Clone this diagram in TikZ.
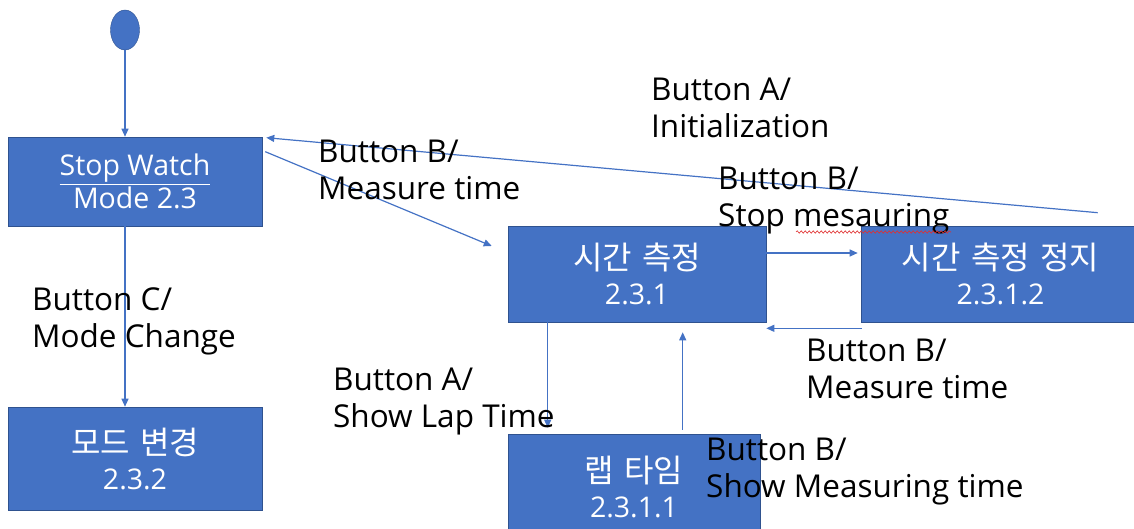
\documentclass[tikz,border=0pt]{standalone}
\usepackage{fontspec}
\setmainfont{Open Sans}
\newfontfamily\kr{Noto Sans CJK KR}
\usetikzlibrary{arrows.meta,shapes.geometric,decorations.pathmorphing}
\definecolor{boxblue}{HTML}{4472C4}
\definecolor{boxedge}{HTML}{2F528F}
\definecolor{spellred}{HTML}{E03030}
\newcommand{\hangul}[1]{{\kr\fontsize{32}{36}\selectfont\spaceskip=0.32em #1}}
\begin{document}
\begin{tikzpicture}[x=1pt,y=-1pt,
  state/.style={draw=boxedge, line width=0.6pt, fill=boxblue, text=white,
    font=\fontsize{28.5}{35}\selectfont, align=center, inner sep=0pt},
  arr/.style={draw=boxblue, line width=1.2pt, -{Triangle[length=8pt,width=7pt]}},
  lbl/.style={font=\fontsize{31.5}{37}\selectfont, align=left, inner sep=0pt, anchor=base west}]
\useasboundingbox (0,0) rectangle (1134,529);
\node[draw=boxedge, fill=boxblue, ellipse, minimum width=29pt, minimum height=40pt, inner sep=0pt] (init) at (125,30) {};
\node[state, minimum width=254pt, minimum height=89pt] (sw) at (135,181.5) {\underline{Stop Watch}\\[-2pt]Mode 2.3};
\node[state, minimum width=254pt, minimum height=103pt] (mc) at (135,458.5) {\hangul{모드 변경}\\2.3.2};
\node[state, minimum width=258pt, minimum height=96pt] (meas) at (637,274) {\hangul{시간 측정}\\2.3.1};
\node[state, minimum width=279pt, minimum height=96pt] (stop) at (1000.5,274) {\hangul{시간 측정 정지}\\2.3.1.2};
\node[state, minimum width=252pt, minimum height=106pt] (lap) at (634,487) {\hangul{랩 타임}\\2.3.1.1};

\draw[arr] (init.south) -- (init.south |- sw.north);
\draw[arr] ([xshift=-10pt]sw.south) -- ([xshift=-10pt]mc.north);
\draw[arr] ([shift={(3,15)}]sw.north east) -- ([shift={(-16,-28)}]meas.west);
\draw[arr] ([shift={(237,-13)}]stop.north west) -- ([shift={(4,1)}]sw.north east);
\draw[arr] ([shift={(0,-21)}]meas.east) -- ([shift={(-3,-21)}]stop.west);
\draw[arr] ([shift={(1,6)}]stop.south west) -- ([shift={(0,6)}]meas.south east);
\draw[arr] ([xshift=40pt]meas.south west) -- ([shift={(40,-6)}]lap.north west);
\draw[arr] ([shift={(175,-4)}]lap.north west) -- ([shift={(175,10)}]meas.south west);

\node[lbl] (l1) at (651,138) {Button A/\\Initialization};
\node[lbl] (l2) at (318,200) {Button B/\\Measure time};
\node[lbl] (l3) at (718,227) {Button B/\\Stop mesauring};
\node[lbl] (l4) at (32,347) {Button C/\\Mode Change};
\node[lbl] (l5) at (333,427) {Button A/\\Show Lap Time};
\node[lbl] (l6) at (806,398) {Button B/\\Measure time};
\node[lbl] (l7) at (706,497) {Button B/\\Show Measuring time};
\coordinate (wa) at (796,232);
\coordinate (wb) at (951,232);
\draw[spellred, line width=0.6pt, decorate, decoration={snake, amplitude=1.2pt, segment length=4pt}] (wa) -- (wb);
\end{tikzpicture}
\end{document}
